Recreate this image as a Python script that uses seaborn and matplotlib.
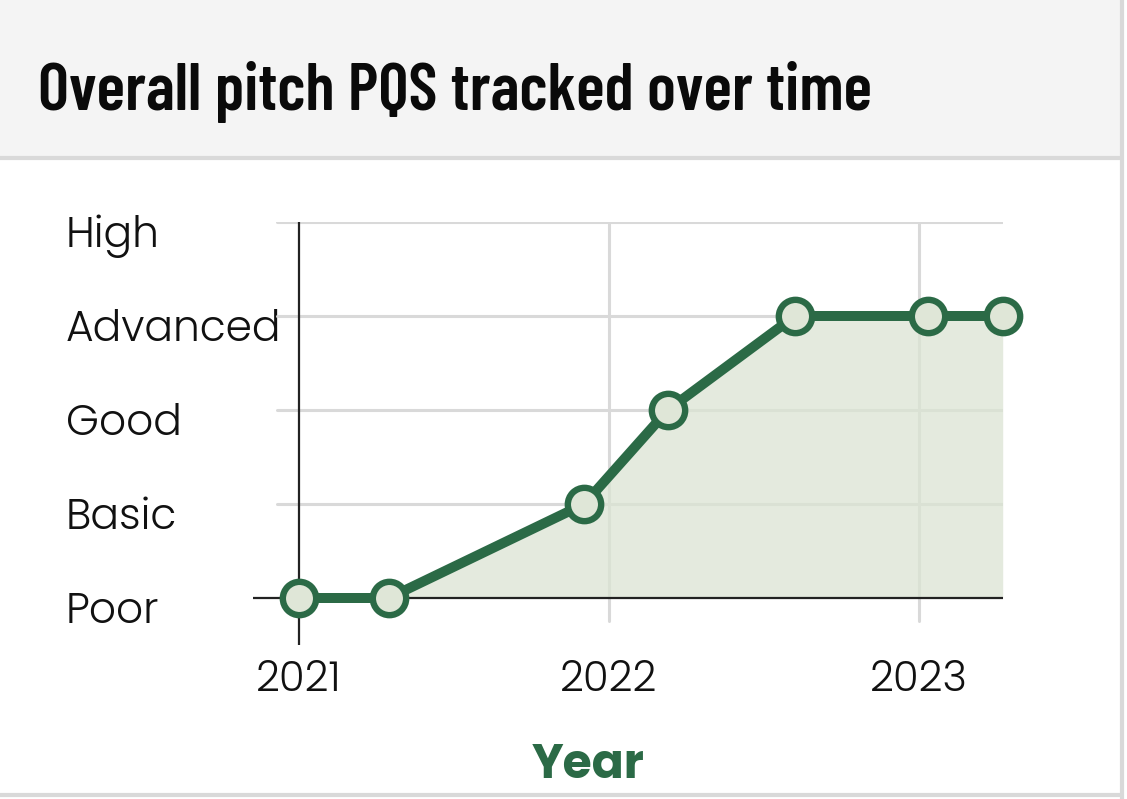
import matplotlib
matplotlib.use('Agg')
import matplotlib.pyplot as plt
import matplotlib.transforms as mtransforms
from matplotlib.patches import Rectangle
from matplotlib.lines import Line2D
import seaborn as sns

# ---- data ----
years = [2021.0, 2021.29, 2021.92, 2022.19, 2022.60, 2023.03, 2023.27]
scores = [0, 0, 1, 2, 3, 3, 3]
levels = ['Poor', 'Basic', 'Good', 'Advanced', 'High']
year_ticks = [2021, 2022, 2023]
year_labels = ['2021', '2022', '2023']
title = 'Overall pitch PQS tracked over time'
xlabel = 'Year'

GREEN = '#2b6a46'
FACE = '#dfe6d7'
BODY = ['Poppins', 'Lato', 'DejaVu Sans']
TITLE_FONT = ['Barlow Condensed', 'Open Sans Condensed', 'IBM Plex Sans Condensed', 'DejaVu Sans']

sns.set_theme(style='white')
plt.rcParams['font.family'] = BODY

W, H = 1127, 799
fig = plt.figure(figsize=(W / 100, H / 100), dpi=100)
fig.patch.set_facecolor('white')

# header band and card borders
fig.patches.append(Rectangle((0, 1 - 156 / H), 1122 / W, 156 / H, transform=fig.transFigure,
                             facecolor='#f4f4f4', edgecolor='none', zorder=0))
fig.lines.append(Line2D([0, 1122 / W], [1 - 157.5 / H] * 2, transform=fig.transFigure,
                        color='#d9d9d9', lw=3))
fig.lines.append(Line2D([1122 / W] * 2, [0, 1], transform=fig.transFigure,
                        color='#d9d9d9', lw=3))
fig.lines.append(Line2D([0, 1122 / W], [1 - 795 / H] * 2, transform=fig.transFigure,
                        color='#d9d9d9', lw=3))

fig.text(38 / W, 1 - 110 / H, title, ha='left', va='baseline', fontsize=48,
         fontweight=600, family=TITLE_FONT, color='#0a0a0a')

# axes area in pixels: x 253..1003, y 222..645
L, R, T, B = 253, 1003, 222, 645
ax = fig.add_axes([L / W, 1 - B / H, (R - L) / W, (B - T) / H])
ax.patch.set_alpha(0)
for s in ax.spines.values():
    s.set_visible(False)

ax.set_xlim(2021 - 46 / 310, 2021 + (R - 299) / 310)
ax.set_ylim(-0.5, 4)

# grid lines
for lv in range(1, len(levels)):
    ax.axhline(lv, xmin=24 / (R - L), xmax=1, color='#d9d9d9', lw=2.2, zorder=1)
for yr in year_ticks[1:]:
    ax.axvline(yr, ymin=24 / (B - T), ymax=1, color='#d9d9d9', lw=2.2, zorder=1)

# area fill
ax.fill_between(years, scores, 0, color='#dbe4d3', alpha=0.75, lw=0, zorder=2)

# axis lines
ax.axvline(year_ticks[0], color='#222222', lw=1.6, zorder=3)
ax.axhline(0, color='#222222', lw=1.6, zorder=3)

# line with markers
sns.lineplot(x=years, y=scores, ax=ax, color=GREEN, lw=7.2, marker='o', markersize=24,
             markeredgewidth=4.6, markerfacecolor=FACE, markeredgecolor=GREEN,
             clip_on=False, zorder=5, errorbar=None)

# y tick labels
ax.set_yticks(range(len(levels)))
ax.set_yticklabels(levels, ha='left', fontsize=30.5, color='#111111', fontweight=300)
ax.tick_params(axis='y', length=0, pad=(L - 66) * 0.72)
off = mtransforms.ScaledTranslation(0, -9 / 100, fig.dpi_scale_trans)
for lab in ax.get_yticklabels():
    lab.set_transform(lab.get_transform() + off)

# x tick labels
ax.set_xticks(year_ticks)
ax.set_xticklabels(year_labels, fontsize=30, color='#111111', fontweight=300)
ax.tick_params(axis='x', length=0, pad=11)

ax.set_xlabel(xlabel, fontsize=34, fontweight='bold', color=GREEN)
ax.xaxis.set_label_coords((588 - L) / (R - L), -(743 - B) / (B - T))
ax.set_ylabel('')

fig.savefig('out.png', dpi=100, facecolor='white')
